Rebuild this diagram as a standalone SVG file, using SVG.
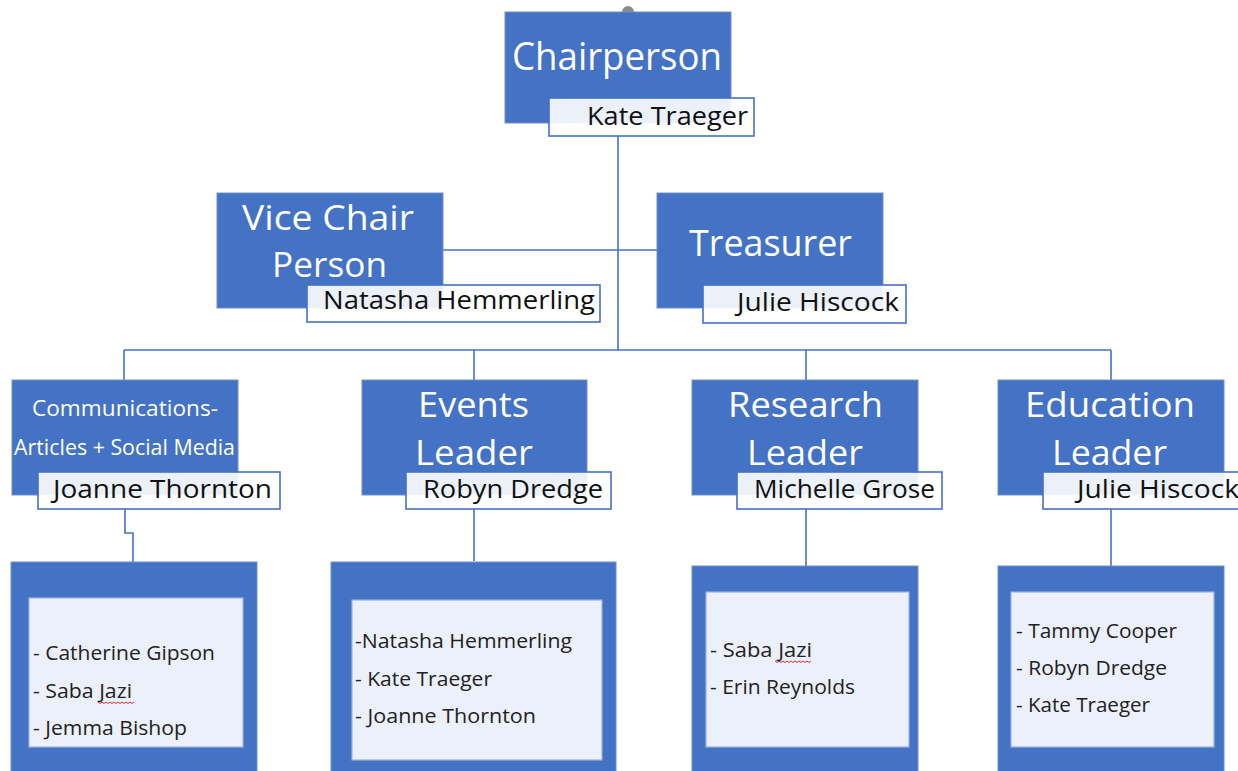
<svg xmlns="http://www.w3.org/2000/svg" width="1238" height="771" viewBox="0 0 1238 771">
<style>
.blue{fill:#4472C4;stroke:#6E8FD0;stroke-width:1}
.name{fill:#FFFFFF;fill-opacity:0.9;stroke:#4472C4;stroke-width:1.6}
.inner{fill:#ECF0FA;stroke:#9DB3E0;stroke-width:1.2}
.title{font-family:"Open Sans","Liberation Sans",sans-serif;fill:#FFFFFF;text-anchor:start}
.nm{font-family:"Open Sans","Liberation Sans",sans-serif;fill:#111111;font-size:25px}
.li{font-family:"Open Sans","Liberation Sans",sans-serif;fill:#222222;font-size:20px}
.conn{fill:none;stroke:#4472C4;stroke-width:1.6}
.sq{fill:none;stroke:#E03030;stroke-width:1}
</style>
<rect width="1238" height="771" fill="#FFFFFF"/>
<g id="connectors">
<path class="conn" d="M618,136 V350"/>
<path class="conn" d="M443,250 H657"/>
<path class="conn" d="M124,350 H1111"/>
<path class="conn" d="M124,350 V380 M474,350 V380 M806,350 V380 M1111,350 V380"/>
<path class="conn" d="M125,509 V533 H133 V562"/>
<path class="conn" d="M474,509 V561"/>
<path class="conn" d="M806,509 V566"/>
<path class="conn" d="M1111,509 V566"/>
</g>
<g id="chairperson">
<path d="M622,12 A6,6 0 0 1 634,12 Z" fill="#8A8A8A"/>
<rect class="blue" x="505" y="12" width="226" height="111"/>
<text class="title" x="512" y="70" font-size="39" textLength="210" lengthAdjust="spacingAndGlyphs">Chairperson</text>
<rect class="name" x="549" y="98" width="205" height="38"/>
<text class="nm" x="587" y="125" textLength="161" lengthAdjust="spacingAndGlyphs">Kate Traeger</text>
</g>
<g id="vice-chair">
<rect class="blue" x="217" y="193" width="226" height="115"/>
<text class="title" x="242" y="230" font-size="34" textLength="172" lengthAdjust="spacingAndGlyphs">Vice Chair</text>
<text class="title" x="272" y="277" font-size="34" textLength="115" lengthAdjust="spacingAndGlyphs">Person</text>
<rect class="name" x="307" y="285" width="293" height="37"/>
<text class="nm" x="323" y="309" textLength="272" lengthAdjust="spacingAndGlyphs">Natasha Hemmerling</text>
</g>
<g id="treasurer">
<rect class="blue" x="657" y="193" width="226" height="115"/>
<text class="title" x="689" y="256" font-size="37" textLength="163" lengthAdjust="spacingAndGlyphs">Treasurer</text>
<rect class="name" x="703" y="285" width="203" height="38"/>
<text class="nm" x="737" y="311" textLength="162" lengthAdjust="spacingAndGlyphs">Julie Hiscock</text>
</g>
<g id="communications">
<rect class="blue" x="12" y="380" width="226" height="115"/>
<text class="title" x="32" y="416" font-size="22" textLength="186" lengthAdjust="spacingAndGlyphs">Communications-</text>
<text class="title" x="14" y="455" font-size="22" textLength="221" lengthAdjust="spacingAndGlyphs">Articles + Social Media</text>
<rect class="name" x="38" y="472" width="242" height="37"/>
<text class="nm" x="53" y="498" textLength="219" lengthAdjust="spacingAndGlyphs">Joanne Thornton</text>
</g>
<g id="events">
<rect class="blue" x="362" y="380" width="225" height="115"/>
<text class="title" x="418" y="417" font-size="34" textLength="111" lengthAdjust="spacingAndGlyphs">Events</text>
<text class="title" x="415" y="465" font-size="34" textLength="118" lengthAdjust="spacingAndGlyphs">Leader</text>
<rect class="name" x="406" y="472" width="205" height="37"/>
<text class="nm" x="423" y="498" textLength="180" lengthAdjust="spacingAndGlyphs">Robyn Dredge</text>
</g>
<g id="research">
<rect class="blue" x="692" y="380" width="226" height="115"/>
<text class="title" x="728" y="417" font-size="34" textLength="155" lengthAdjust="spacingAndGlyphs">Research</text>
<text class="title" x="747" y="465" font-size="34" textLength="116" lengthAdjust="spacingAndGlyphs">Leader</text>
<rect class="name" x="737" y="472" width="205" height="37"/>
<text class="nm" x="754" y="498" textLength="181" lengthAdjust="spacingAndGlyphs">Michelle Grose</text>
</g>
<g id="education">
<rect class="blue" x="998" y="380" width="226" height="115"/>
<text class="title" x="1025" y="417" font-size="34" textLength="170" lengthAdjust="spacingAndGlyphs">Education</text>
<text class="title" x="1052" y="465" font-size="34" textLength="115" lengthAdjust="spacingAndGlyphs">Leader</text>
<rect class="name" x="1043" y="472" width="205" height="37"/>
<text class="nm" x="1077" y="498" textLength="162" lengthAdjust="spacingAndGlyphs">Julie Hiscock</text>
</g>
<g id="communications-team">
<rect class="blue" x="11" y="562" width="246" height="215"/>
<rect class="inner" x="29" y="598" width="214" height="149"/>
<text class="li" x="33" y="660" textLength="182" lengthAdjust="spacingAndGlyphs">- Catherine Gipson</text>
<text class="li" x="33" y="698" textLength="99" lengthAdjust="spacingAndGlyphs">- Saba Jazi</text>
<path class="sq" d="M98,702 l2,1.5 l2,-1.5 l2,1.5 l2,-1.5 l2,1.5 l2,-1.5 l2,1.5 l2,-1.5 l2,1.5 l2,-1.5 l2,1.5 l2,-1.5 l2,1.5 l2,-1.5 l2,1.5 l2,-1.5 l2,1.5 l2,-1.5"/>
<text class="li" x="33" y="735" textLength="154" lengthAdjust="spacingAndGlyphs">- Jemma Bishop</text>
</g>
<g id="events-team">
<rect class="blue" x="331" y="562" width="285" height="215"/>
<rect class="inner" x="352" y="600" width="250" height="160"/>
<text class="li" x="355" y="648" textLength="217" lengthAdjust="spacingAndGlyphs">-Natasha Hemmerling</text>
<text class="li" x="355" y="686" textLength="137" lengthAdjust="spacingAndGlyphs">- Kate Traeger</text>
<text class="li" x="355" y="723" textLength="181" lengthAdjust="spacingAndGlyphs">- Joanne Thornton</text>
</g>
<g id="research-team">
<rect class="blue" x="692" y="566" width="226" height="211"/>
<rect class="inner" x="706" y="592" width="203" height="155"/>
<text class="li" x="710" y="657" textLength="102" lengthAdjust="spacingAndGlyphs">- Saba Jazi</text>
<path class="sq" d="M775,661 l2,1.5 l2,-1.5 l2,1.5 l2,-1.5 l2,1.5 l2,-1.5 l2,1.5 l2,-1.5 l2,1.5 l2,-1.5 l2,1.5 l2,-1.5 l2,1.5 l2,-1.5 l2,1.5 l2,-1.5 l2,1.5 l2,-1.5"/>
<text class="li" x="710" y="694" textLength="145" lengthAdjust="spacingAndGlyphs">- Erin Reynolds</text>
</g>
<g id="education-team">
<rect class="blue" x="998" y="566" width="226" height="211"/>
<rect class="inner" x="1011" y="592" width="203" height="155"/>
<text class="li" x="1016" y="638" textLength="161" lengthAdjust="spacingAndGlyphs">- Tammy Cooper</text>
<text class="li" x="1016" y="675" textLength="151" lengthAdjust="spacingAndGlyphs">- Robyn Dredge</text>
<text class="li" x="1016" y="712" textLength="134" lengthAdjust="spacingAndGlyphs">- Kate Traeger</text>
</g>
</svg>
